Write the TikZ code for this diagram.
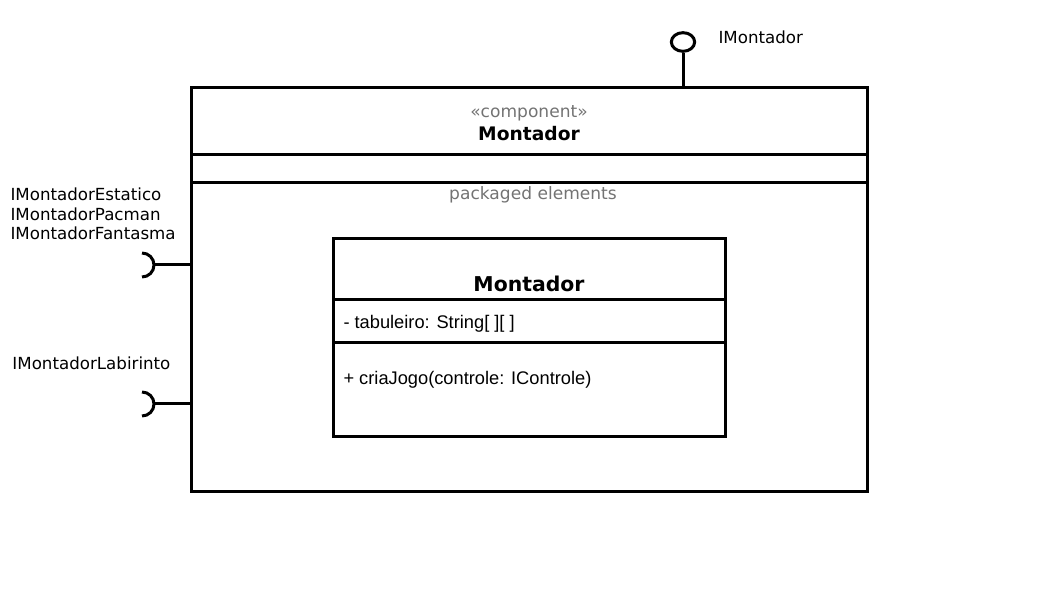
\documentclass[tikz,border=0pt]{standalone}
\usepackage{fontspec}
\setmainfont{DejaVu Sans}
\newfontfamily\classfont{Liberation Sans}
\usetikzlibrary{positioning,shapes.geometric}

\tikzset{
  lbl/.style={font=\fontsize{12.5}{14.6}\selectfont, inner sep=0pt},
  greylbl/.style={inner sep=0pt, text=black!55, font=\fontsize{12.8}{15}\selectfont},
  member/.style={font=\classfont\fontsize{13.7}{16}\selectfont, inner sep=0pt, anchor=west},
}

\begin{document}
\begin{tikzpicture}[x=0.75pt,y=-0.75pt,line width=2.25pt]
	\useasboundingbox (0,0) rectangle (1058,595);
	% component box
	\draw (191,88) rectangle (867,492);
	\draw (191,155) -- (867,155);
	\draw (191,183) -- (867,183);
	\node[greylbl] (stereo) at (529,113) {«component»};
	\node[inner sep=0pt, font=\bfseries\fontsize{14}{16}\selectfont] (compname) at (529,134) {Montador};
	\node[greylbl] (pkg) at (533,195) {packaged elements};
	% class box
	\draw (333,239) rectangle (725,437);
	\draw (333,300) -- (725,300);
	\draw (333,343) -- (725,343);
	\node[inner sep=0pt, font=\bfseries\fontsize{15.3}{18}\selectfont] (classname) at (529,284) {Montador};
	\node[member] (attr) at (342,323.5) {- tabuleiro: String[ ][ ]};
	\node[member] (oper) at (342,379.5) {+ criaJogo(controle: IControle)};
	% provided interface
	\node[draw, ellipse, minimum width=17.5pt, minimum height=14pt, inner sep=0pt] (prov) at (683,42) {};
	\coordinate (provport) at (683,88);
	\draw (prov.south) -- (provport);
	\node[lbl, anchor=west] (provlbl) at (717,37) {IMontador};
	% required interfaces
	\coordinate (sockA) at (154,265);
	\coordinate (portA) at (191,265);
	\draw (sockA) -- (portA);
	\draw (142,277) arc[start angle=90, end angle=-90, radius=12];
	\node[lbl, anchor=west, align=left] (reqAlbl) at (9,214) {IMontadorEstatico\\IMontadorPacman\\IMontadorFantasma};
	\coordinate (sockB) at (154,404);
	\coordinate (portB) at (191,404);
	\draw (sockB) -- (portB);
	\draw (142,416) arc[start angle=90, end angle=-90, radius=12];
	\node[lbl, anchor=west] (reqBlbl) at (11,363) {IMontadorLabirinto};
\end{tikzpicture}
\end{document}
